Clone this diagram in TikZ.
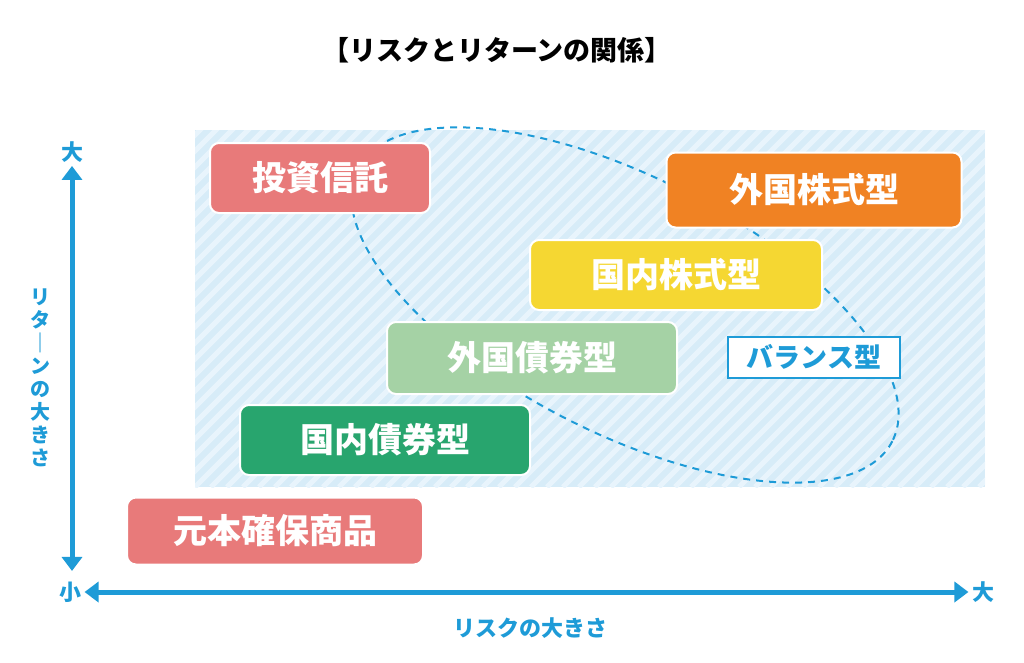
\documentclass[tikz,border=0pt]{standalone}
\usepackage{fontspec}
\setmainfont{Noto Sans CJK JP}
\usetikzlibrary{positioning,arrows.meta}
\definecolor{axisblue}{RGB}{30,155,215}
\definecolor{bgblue}{RGB}{215,236,248}
\definecolor{stripeblue}{RGB}{232,244,252}
\definecolor{boxred}{RGB}{232,122,122}
\definecolor{boxgreen}{RGB}{40,165,110}
\definecolor{boxlgreen}{RGB}{165,210,165}
\definecolor{boxyellow}{RGB}{245,215,50}
\definecolor{boxorange}{RGB}{240,130,35}
\tikzset{
  kind/.style={draw=white, line width=2pt, rounded corners=9pt, text=white,
    font=\fontsize{34}{34}\selectfont\bfseries, inner sep=0pt},
  axislabel/.style={text=axisblue, font=\fontsize{22}{22}\selectfont\bfseries}
}
\begin{document}
\begin{tikzpicture}[x=1pt,y=-1pt]
    \useasboundingbox (0,0) rectangle (1024,662);
    % background
    \fill[bgblue] (195,130) rectangle (985,487);
    \begin{scope}
      \clip (195,130) rectangle (985,487);
      \foreach \s in {0,16,...,1200}
        \draw[stripeblue, line width=5pt] (195+\s-400,487) -- (195+\s,87);
    \end{scope}
    % title
    \node (title) at (497,50) {\fontsize{27}{27}\selectfont\bfseries 【リスクとリターンの関係】};
    % ellipse
    \draw[axisblue, line width=2pt, dash pattern=on 7pt off 6pt, rotate around={-27:(625,305)}]
      (625,305) ellipse [x radius=300, y radius=128];
    % boxes
    \node[kind, fill=boxred, minimum width=220, minimum height=70] (fund) at (320,178) {投資信託};
    \node[kind, fill=boxred, minimum width=296, minimum height=67] (principal) at (275,531) {元本確保商品};
    \node[kind, fill=boxgreen, minimum width=290, minimum height=70] (dombond) at (385,440) {国内債券型};
    \node[kind, fill=boxlgreen, minimum width=290, minimum height=72] (forbond) at (532,358) {外国債券型};
    \node[kind, fill=boxyellow, minimum width=292, minimum height=70] (domstock) at (676,275) {国内株式型};
    \node[kind, fill=boxorange, minimum width=295, minimum height=75] (forstock) at (814,190) {外国株式型};
    \node[draw=axisblue, line width=2pt, fill=white, text=axisblue, minimum width=172, minimum height=41,
      font=\fontsize{27}{27}\selectfont\bfseries, inner sep=0pt] (balance) at (814,357) {バランス型};
    % axes
    \node[axislabel] (ybig) at (72,152) {大};
    \node[axislabel] (small) at (70,592) {小};
    \node[axislabel] (xbig) at (983,592) {大};
    \draw[axisblue, line width=5pt, {Triangle[length=14pt,width=20pt]}-{Triangle[length=14pt,width=20pt]}]
      (ybig.south) -- ++(0,405);
    \draw[axisblue, line width=5pt, {Triangle[length=14pt,width=20pt]}-{Triangle[length=14pt,width=20pt]}]
      (small.east) -- (xbig.west);
    \node[axislabel, align=center, inner sep=0pt, font=\fontsize{20}{23}\selectfont\bfseries] (ylabel) at (40,378)
      {リ\\タ\\｜\\ン\\の\\大\\き\\さ};
    \node[axislabel] (xlabel) at (530,628) {リスクの大きさ};
\end{tikzpicture}
\end{document}
